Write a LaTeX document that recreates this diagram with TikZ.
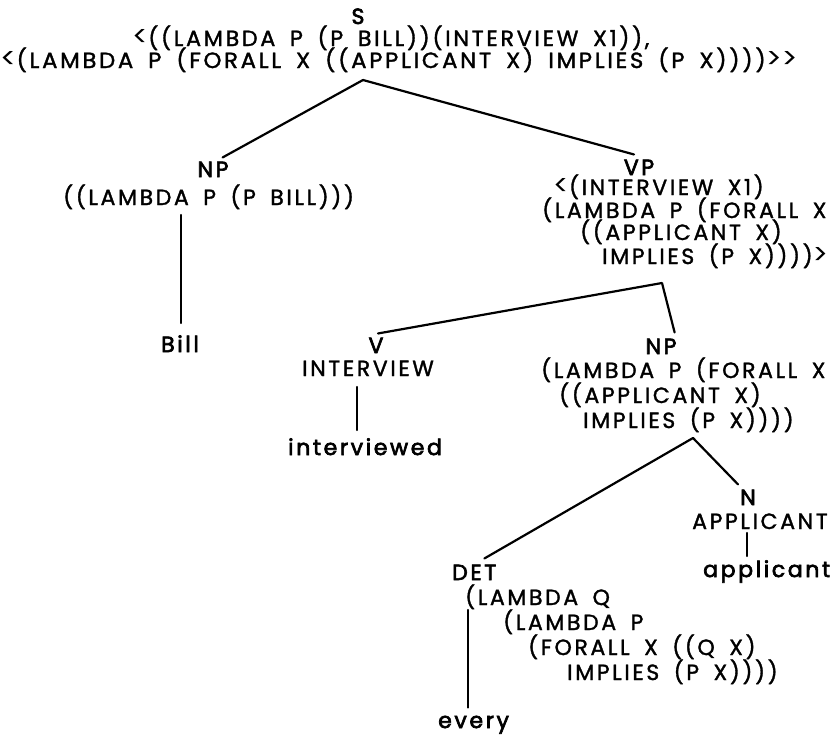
\documentclass[tikz,border=0pt]{standalone}
\usepackage{fontspec}
\usepackage{graphicx}
\newfontfamily\tfont{Poppins}[LetterSpace=12,WordSpace=1.7,FakeBold=1.5]
\newfontfamily\labfont{Poppins}[LetterSpace=12,WordSpace=1.7,FakeBold=3]
\newfontfamily\ltfont{Poppins}[LetterSpace=12]
\newcommand\Lt{\raisebox{-0.05ex}{\scalebox{1.3}{\ltfont <}}}
\newcommand\Gt{\raisebox{-0.05ex}{\scalebox{1.3}{\ltfont >}}}
\begin{document}
\begin{tikzpicture}[x=1pt,y=-1pt,
  txt/.style={anchor=base west, inner sep=0pt, font=\tfont\fontsize{22}{26}\selectfont},
  lab/.style={anchor=base, inner sep=0pt, font=\labfont\fontsize{22}{26}\selectfont},
  labw/.style={anchor=base west, inner sep=0pt, font=\labfont\fontsize{22}{26}\selectfont},
  edge/.style={line width=2.2pt, line cap=round, line join=round}]
\useasboundingbox (0,0) rectangle (838,737);
% S
\node[lab] (s) at (358,24) {S};
\node[txt] (s1) at (132,46) {\scalebox{1.012}[1]{\Lt((LAMBDA P (P BILL))(INTERVIEW X1)),}};
\node[txt] (s2) at (0,68) {\scalebox{1.033}[1]{\Lt(LAMBDA P (FORALL X ((APPLICANT X) IMPLIES (P X))))\Gt\Gt}};
\coordinate (sA) at (363,80);
% NP1
\node[lab] (np1) at (213,177) {NP};
\node[txt] (np1a) at (63,205) {((LAMBDA P (P BILL)))};
\node[lab] (bill) at (180,352) {Bill};
% VP
\node[lab] (vp) at (639,175) {VP};
\node[txt] (vp1) at (553,195) {\Lt(INTERVIEW X1)};
\node[txt] (vp2) at (542,218) {(LAMBDA P (FORALL X};
\node[txt] (vp3) at (580,240) {((APPLICANT X)};
\node[txt] (vp4) at (602,264) {IMPLIES (P X))))\Gt};
\coordinate (vpA) at (662,283);
% V
\node[lab] (v) at (376,353) {V};
\node[txt] (v1) at (302,376) {INTERVIEW};
\node[labw] (intv) at (288,455) {interviewed};
% NP2
\node[lab] (np2) at (661,354) {NP};
\node[txt] (np2a) at (541,378) {(LAMBDA P (FORALL X};
\node[txt] (np2b) at (559,403) {((APPLICANT X)};
\node[txt] (np2c) at (583,428) {IMPLIES (P X))))};
\coordinate (npA) at (693,438);
% N
\node[lab] (n) at (748,505) {N};
\node[txt] (n1) at (692,529) {APPLICANT};
\node[labw] (appl) at (703,577) {applicant};
% DET
\node[labw] (det) at (452,580) {DET};
\node[txt] (d1) at (465,605) {(LAMBDA Q};
\node[txt] (d2) at (503,630) {(LAMBDA P};
\node[txt] (d3) at (528,655) {(FORALL X ((Q X)};
\node[txt] (d4) at (567,680) {IMPLIES (P X))))};
\node[labw] (every) at (438,728) {every};
% branches
\draw[edge] ([shift={(-6,-4)}]np1.north east) -- (sA) -- ([shift={(-5,-5)}]vp.north);
\draw[edge] ([shift={(2,-4)}]v.north) -- (vpA) -- ([shift={(-2,-6)}]np2.north east);
\draw[edge] ([shift={(-12,-6)}]det.north east) -- (npA) -- ([shift={(-2,-5)}]n.north west);
% unary lines
\coordinate (billT) at (181,215);
\draw[edge] (billT) -- ([yshift=12pt]billT |- bill.north);
\coordinate (vT) at (357,387);
\draw[edge] (vT) -- ([yshift=8pt]vT |- intv.north);
\coordinate (nT) at (747,533);
\draw[edge] (nT) -- ([yshift=4pt]nT |- appl.north);
\coordinate (dT) at (468,610);
\draw[edge] (dT) -- ([yshift=8pt]dT |- every.north);
\end{tikzpicture}
\end{document}
